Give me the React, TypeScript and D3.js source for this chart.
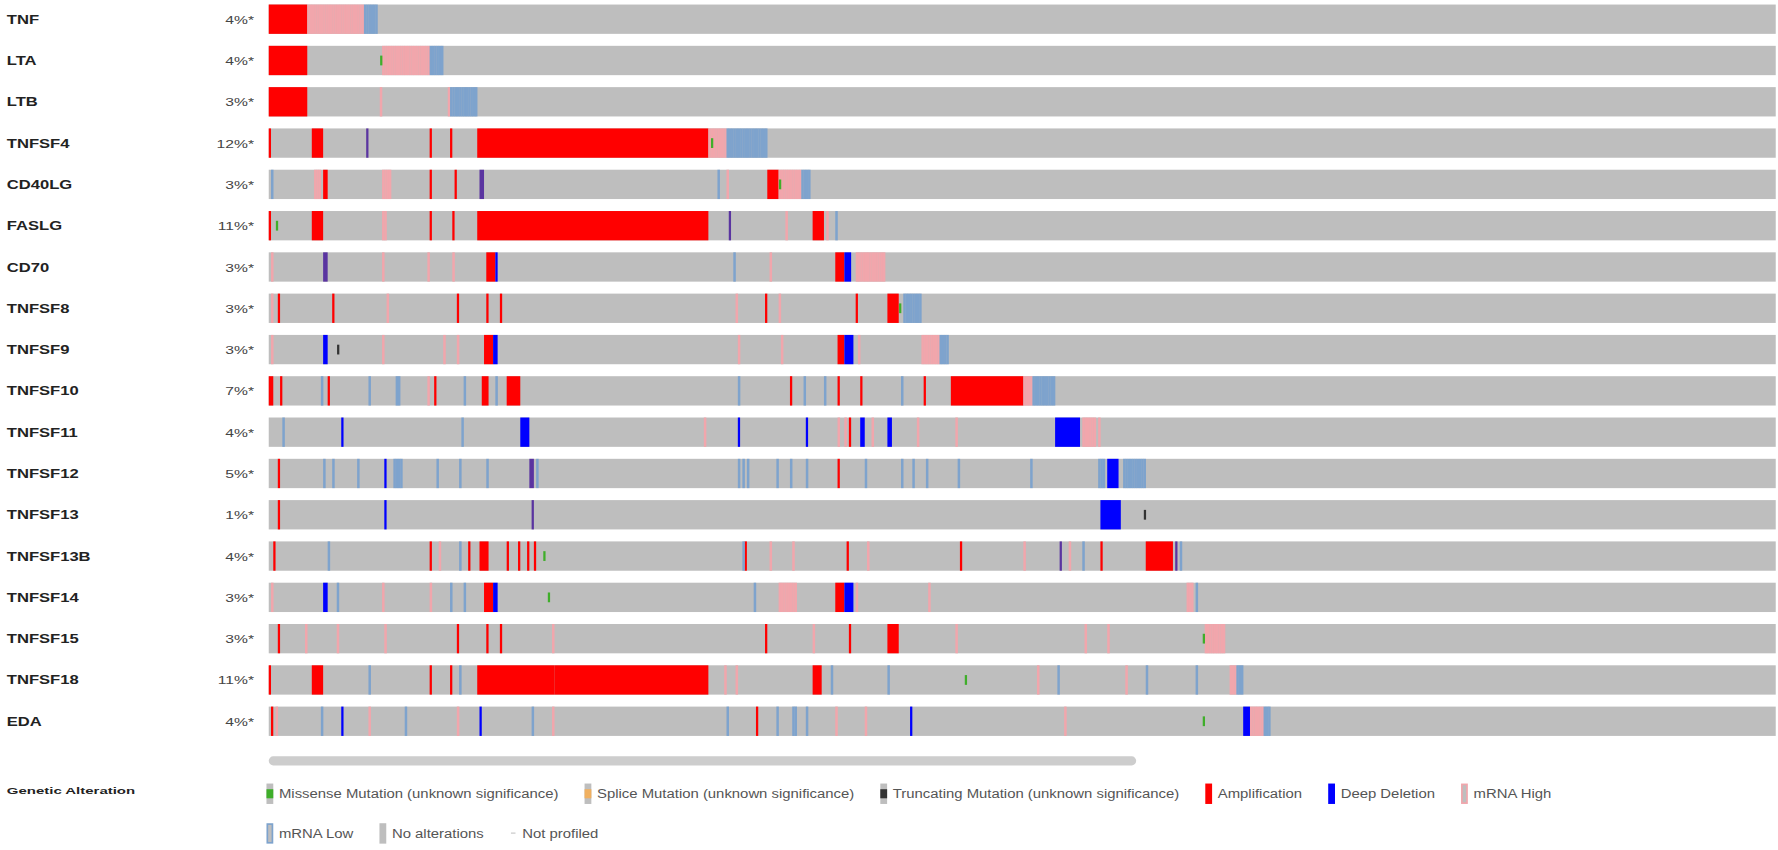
import * as React from 'react';
import * as d3 from 'd3';

// genes, top to bottom
const genes = [
  'TNF', 'LTA', 'LTB', 'TNFSF4', 'CD40LG', 'FASLG', 'CD70', 'TNFSF8', 'TNFSF9',
  'TNFSF10', 'TNFSF11', 'TNFSF12', 'TNFSF13', 'TNFSF13B', 'TNFSF14', 'TNFSF15', 'TNFSF18', 'EDA',
];

const percents = [
  '4%*', '4%*', '3%*', '12%*', '3%*', '11%*', '3%*', '3%*', '3%*',
  '7%*', '4%*', '5%*', '1%*', '4%*', '3%*', '3%*', '11%*', '4%*',
];

// number of sample columns in the visible window
const visibleSamples = 665;

// [first sample, number of samples, alteration]
// A amplification, D deep deletion, H mRNA high, L mRNA low, M missense, T truncating, X deletion + mRNA high
type Ev = [number, number, string];

const tnf: Ev[] = [[0, 17, 'A'], [17, 25, 'H'], [42, 6, 'L']];
const lta: Ev[] = [[0, 17, 'A'], [50, 21, 'H'], [71, 6, 'L'], [49, 1, 'M']];
const ltb: Ev[] = [[0, 17, 'A'], [49, 1, 'H'], [79, 1, 'H'], [80, 12, 'L']];
const tnfsf4: Ev[] = [[0, 1, 'A'], [19, 5, 'A'], [43, 1, 'X'], [71, 1, 'A'], [80, 1, 'A'], [92, 102, 'A'], [194, 8, 'H'], [202, 18, 'L'], [195, 1, 'M']];
const cd40lg: Ev[] = [[1, 1, 'L'], [20, 3, 'H'], [24, 2, 'A'], [50, 4, 'H'], [71, 1, 'A'], [82, 1, 'A'], [93, 2, 'X'], [198, 1, 'L'], [202, 1, 'H'], [220, 5, 'A'], [225, 10, 'H'], [235, 4, 'L'], [225, 1, 'M']];
const faslg: Ev[] = [[0, 1, 'A'], [19, 5, 'A'], [50, 2, 'H'], [71, 1, 'A'], [81, 1, 'A'], [92, 102, 'A'], [203, 1, 'X'], [228, 1, 'H'], [240, 5, 'A'], [246, 1, 'H'], [250, 1, 'L'], [3, 1, 'M']];
const cd70: Ev[] = [[1, 1, 'H'], [24, 2, 'X'], [50, 1, 'H'], [70, 1, 'H'], [81, 1, 'H'], [96, 4, 'A'], [100, 1, 'D'], [205, 1, 'L'], [221, 1, 'H'], [250, 4, 'A'], [254, 3, 'D'], [259, 13, 'H']];
const tnfsf8: Ev[] = [[1, 1, 'H'], [4, 1, 'A'], [28, 1, 'A'], [52, 1, 'H'], [83, 1, 'A'], [96, 1, 'A'], [102, 1, 'A'], [206, 1, 'H'], [219, 1, 'A'], [225, 1, 'H'], [259, 1, 'A'], [273, 5, 'A'], [280, 8, 'L'], [278, 1, 'M']];
const tnfsf9: Ev[] = [[1, 1, 'H'], [24, 2, 'D'], [50, 1, 'H'], [77, 1, 'H'], [83, 1, 'H'], [95, 4, 'A'], [99, 2, 'D'], [207, 1, 'H'], [226, 1, 'H'], [251, 3, 'A'], [254, 4, 'D'], [260, 1, 'H'], [288, 8, 'H'], [296, 4, 'L'], [30, 1, 'T']];
const tnfsf10: Ev[] = [[0, 2, 'A'], [5, 1, 'A'], [23, 1, 'L'], [26, 1, 'A'], [44, 1, 'L'], [56, 2, 'L'], [70, 1, 'H'], [73, 1, 'A'], [86, 1, 'L'], [94, 3, 'A'], [100, 1, 'L'], [105, 6, 'A'], [207, 1, 'L'], [230, 1, 'A'], [236, 1, 'L'], [245, 1, 'L'], [251, 1, 'A'], [261, 1, 'A'], [279, 1, 'L'], [289, 1, 'A'], [301, 32, 'A'], [333, 4, 'H'], [337, 10, 'L']];
const tnfsf11: Ev[] = [[6, 1, 'L'], [32, 1, 'D'], [85, 1, 'L'], [111, 4, 'D'], [192, 1, 'H'], [207, 1, 'D'], [237, 1, 'D'], [251, 1, 'H'], [254, 1, 'H'], [256, 1, 'A'], [261, 2, 'D'], [266, 1, 'H'], [273, 2, 'D'], [286, 1, 'H'], [303, 1, 'H'], [347, 11, 'D'], [359, 6, 'H'], [366, 1, 'H']];
const tnfsf12: Ev[] = [[4, 1, 'A'], [24, 1, 'L'], [28, 1, 'L'], [39, 1, 'L'], [51, 1, 'D'], [55, 4, 'L'], [74, 1, 'L'], [84, 1, 'L'], [96, 1, 'L'], [115, 2, 'X'], [118, 1, 'L'], [207, 1, 'L'], [209, 1, 'L'], [211, 1, 'L'], [224, 1, 'L'], [230, 1, 'L'], [237, 1, 'L'], [251, 1, 'A'], [263, 1, 'L'], [279, 1, 'L'], [284, 1, 'L'], [290, 1, 'L'], [304, 1, 'L'], [336, 1, 'L'], [366, 3, 'L'], [370, 5, 'D'], [377, 10, 'L']];
const tnfsf13: Ev[] = [[4, 1, 'A'], [51, 1, 'D'], [116, 1, 'X'], [367, 9, 'D'], [386, 1, 'T']];
const tnfsf13b: Ev[] = [[2, 1, 'A'], [26, 1, 'L'], [71, 1, 'A'], [75, 1, 'H'], [84, 1, 'L'], [88, 1, 'A'], [93, 4, 'A'], [105, 1, 'A'], [110, 1, 'A'], [114, 1, 'A'], [117, 1, 'A'], [209, 1, 'L'], [210, 1, 'A'], [221, 1, 'H'], [231, 1, 'H'], [255, 1, 'A'], [264, 1, 'H'], [305, 1, 'A'], [333, 1, 'H'], [349, 1, 'X'], [353, 1, 'H'], [359, 1, 'L'], [367, 1, 'A'], [387, 12, 'A'], [400, 1, 'X'], [402, 1, 'L'], [121, 1, 'M']];
const tnfsf14: Ev[] = [[1, 1, 'H'], [24, 2, 'D'], [30, 1, 'L'], [50, 1, 'H'], [71, 1, 'H'], [80, 1, 'L'], [86, 1, 'L'], [95, 4, 'A'], [99, 2, 'D'], [214, 1, 'L'], [225, 8, 'H'], [250, 4, 'A'], [254, 4, 'D'], [259, 1, 'H'], [291, 1, 'H'], [405, 3, 'H'], [409, 1, 'L'], [123, 1, 'M']];
const tnfsf15: Ev[] = [[4, 1, 'A'], [16, 1, 'H'], [30, 1, 'H'], [51, 1, 'H'], [83, 1, 'A'], [96, 1, 'A'], [102, 1, 'A'], [125, 1, 'H'], [219, 1, 'A'], [240, 1, 'H'], [256, 1, 'A'], [273, 5, 'A'], [303, 1, 'H'], [360, 1, 'H'], [370, 1, 'H'], [413, 9, 'H'], [412, 1, 'M']];
const tnfsf18: Ev[] = [[0, 1, 'A'], [19, 5, 'A'], [44, 1, 'L'], [71, 1, 'A'], [80, 1, 'A'], [84, 1, 'L'], [92, 34, 'A'], [126, 68, 'A'], [201, 1, 'H'], [206, 1, 'H'], [240, 4, 'A'], [248, 1, 'L'], [273, 1, 'L'], [339, 1, 'H'], [348, 1, 'L'], [378, 1, 'H'], [387, 1, 'L'], [409, 1, 'L'], [424, 3, 'H'], [427, 3, 'L'], [307, 1, 'M']];
const eda: Ev[] = [[1, 1, 'A'], [3, 1, 'H'], [23, 1, 'L'], [32, 1, 'D'], [44, 1, 'H'], [60, 1, 'L'], [83, 1, 'H'], [93, 1, 'D'], [116, 1, 'L'], [125, 1, 'H'], [202, 1, 'L'], [215, 1, 'A'], [224, 1, 'L'], [231, 2, 'L'], [237, 1, 'L'], [250, 1, 'H'], [263, 1, 'H'], [283, 1, 'D'], [351, 1, 'H'], [430, 3, 'D'], [433, 6, 'H'], [439, 3, 'L'], [412, 1, 'M']];

const alterations: Ev[][] = [
  tnf, lta, ltb, tnfsf4, cd40lg, faslg, cd70, tnfsf8, tnfsf9,
  tnfsf10, tnfsf11, tnfsf12, tnfsf13, tnfsf13b, tnfsf14, tnfsf15, tnfsf18, eda,
];

const legendRow1 = [
  { key: 'M', label: 'Missense Mutation (unknown significance)' },
  { key: 'S', label: 'Splice Mutation (unknown significance)' },
  { key: 'T', label: 'Truncating Mutation (unknown significance)' },
  { key: 'A', label: 'Amplification' },
  { key: 'D', label: 'Deep Deletion' },
  { key: 'H', label: 'mRNA High' },
];
const legendRow2 = [
  { key: 'L', label: 'mRNA Low' },
  { key: 'N', label: 'No alterations' },
  { key: 'P', label: 'Not profiled' },
];

const colors: Record<string, string> = {
  A: '#ff0000',
  D: '#0000ff',
  H: '#f1a6ac',
  L: '#7ea3cd',
  X: '#5a34a0',
  M: '#3fae2a',
  S: '#f0b060',
  T: '#333333',
  N: '#bebebe',
};

const W = 1778;
const H = 850;
// layout was measured on a 1568 px wide copy
const K = W / 1568;
const FONT = 'Liberation Sans, Arial, sans-serif';

const App: React.FC = () => {
  const ref = React.useRef<SVGSVGElement>(null);

  React.useEffect(() => {
    const root = d3.select(ref.current);
    root.selectAll('*').remove();
    const svg = root.append('g').attr('transform', `scale(${K})`);

    const x = d3.scaleLinear().domain([0, visibleSamples]).range([237, 1566]);
    const y = d3.scaleBand().domain(genes).range([4, 649]).paddingInner(0.29).paddingOuter(0);
    const bw = x(1) - x(0);
    const bh = y.bandwidth();

    const rows = svg.selectAll('g.row')
      .data(genes)
      .enter().append('g')
      .attr('class', 'row')
      .attr('transform', (d) => `translate(0, ${y(d)})`);

    rows.append('text')
      .attr('transform', `translate(6, ${bh / 2 + 4}) scale(1.38, 1)`)
      .attr('font-family', FONT)
      .attr('font-weight', 'bold')
      .attr('font-size', 10.6)
      .attr('fill', '#222')
      .text((d) => d);

    rows.append('text')
      .attr('transform', `translate(224, ${bh / 2 + 4}) scale(1.38, 1)`)
      .attr('text-anchor', 'end')
      .attr('font-family', FONT)
      .attr('font-size', 10)
      .attr('fill', '#444')
      .text((d, i) => percents[i]);

    rows.append('rect')
      .attr('x', x(0))
      .attr('width', x(visibleSamples) - x(0))
      .attr('height', bh)
      .attr('fill', colors.N);

    rows.each(function (gene, i) {
      const g = d3.select(this);
      const evs = alterations[i];
      const isMut = (t: string) => t === 'M' || t === 'T' || t === 'S';
      const isExpr = (t: string) => t === 'H' || t === 'L';

      // copy-number blocks as one rect per run
      g.selectAll('rect.cna')
        .data(evs.filter((e) => !isMut(e[2]) && !isExpr(e[2])))
        .enter().append('rect')
        .attr('class', 'cna')
        .attr('x', (d) => x(d[0]))
        .attr('width', (d) => x(d[0] + d[1]) - x(d[0]))
        .attr('height', bh)
        .attr('fill', (d) => colors[d[2]]);

      // expression cells one per sample column
      const cells = evs.filter((e) => isExpr(e[2]))
        .flatMap((e) => d3.range(e[0], e[0] + e[1]).map((s) => ({ s, t: e[2] })));
      g.selectAll('rect.cell')
        .data(cells)
        .enter().append('rect')
        .attr('class', 'cell')
        .attr('x', (d) => x(d.s))
        .attr('width', bw + 0.2)
        .attr('height', bh)
        .attr('fill', (d) => colors[d.t]);

      g.selectAll('rect.mut')
        .data(evs.filter((e) => isMut(e[2])))
        .enter().append('rect')
        .attr('class', 'mut')
        .attr('x', (d) => x(d[0]) + 0.3)
        .attr('y', bh / 3)
        .attr('width', bw)
        .attr('height', bh / 3)
        .attr('fill', (d) => colors[d[2]]);
    });

    // horizontal scrollbar under the tracks
    svg.append('rect')
      .attr('x', x(0))
      .attr('y', 667)
      .attr('width', 765)
      .attr('height', 8)
      .attr('rx', 4)
      .attr('fill', '#cdcdcd');

    svg.append('text')
      .attr('transform', 'translate(6, 700) scale(1.5, 1)')
      .attr('font-family', FONT)
      .attr('font-weight', 'bold')
      .attr('font-size', 8.8)
      .attr('fill', '#222')
      .text('Genetic Alteration');

    const sx = 1.24;
    const drawLegend = (items: { key: string; label: string }[], x0: number, cy: number) => {
      let cx = x0;
      items.forEach((it) => {
        const g = svg.append('g').attr('transform', `translate(${cx}, ${cy - 9})`);
        if (it.key === 'P') {
          g.append('rect').attr('x', 1).attr('y', 8).attr('width', 4).attr('height', 1.5).attr('fill', '#d8d8d8');
        } else if (it.key === 'H' || it.key === 'L') {
          g.append('rect').attr('x', 0.75).attr('y', 0.75).attr('width', 4.5).attr('height', 16.5)
            .attr('fill', colors.N).attr('stroke', colors[it.key]).attr('stroke-width', 1.5);
        } else if (it.key === 'A' || it.key === 'D' || it.key === 'N') {
          g.append('rect').attr('width', 6).attr('height', 18).attr('fill', colors[it.key]);
        } else {
          g.append('rect').attr('width', 6).attr('height', 18).attr('fill', colors.N);
          g.append('rect').attr('y', 5).attr('width', 6).attr('height', 8).attr('fill', colors[it.key]);
        }
        const t = g.append('text')
          .attr('transform', `translate(11, 13) scale(${sx}, 1)`)
          .attr('font-family', FONT)
          .attr('font-size', 10.6)
          .attr('fill', '#555')
          .text(it.label);
        const tw = (t.node() as SVGTextElement).getComputedTextLength() * sx;
        cx += 11 + tw + 23;
      });
    };
    drawLegend(legendRow1, 235, 700);
    drawLegend(legendRow2, 235, 735);
  }, []);

  return (
    <svg ref={ref} width={W} height={H}
      style={{ position: 'absolute', left: 0, top: 0, background: '#fff' }} />
  );
};

export default App;
